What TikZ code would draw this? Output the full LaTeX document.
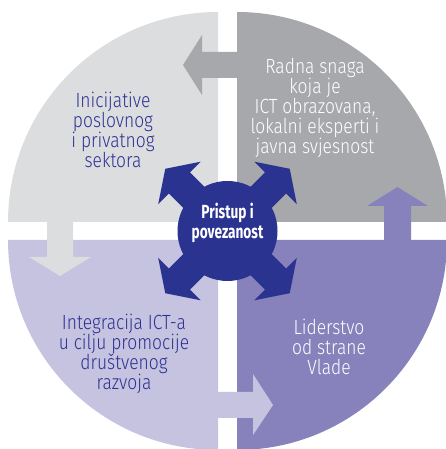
\documentclass[tikz,border=0pt]{standalone}
\usepackage{fontspec}
\setmainfont{Fira Sans}[FakeStretch=0.82]
\newfontfamily\lightfont{Fira Sans Light}[FakeStretch=0.85]
\newfontfamily\hubfont{Fira Sans}[FakeStretch=0.72]
\definecolor{qtl}{HTML}{DCDDDF}
\definecolor{qtr}{HTML}{A7A8AB}
\definecolor{qbl}{HTML}{C5C3E0}
\definecolor{qbr}{HTML}{8782BB}
\definecolor{navy}{HTML}{2B3390}
\definecolor{txtnavy}{HTML}{2E3192}
\begin{document}
\begin{tikzpicture}[x=1pt,y=1pt,
  lbl/.style={align=center,inner sep=0pt,font=\lightfont\fontsize{20.5}{20}\selectfont},
  hub/.style={circle,fill=navy,minimum size=100pt,inner sep=0pt},
  hubtxt/.style={align=center,inner sep=0pt,text=white,font=\hubfont\bfseries\fontsize{19}{20}\selectfont}]
\useasboundingbox (0,0) rectangle (446,449);
\clip (0,0) rectangle (446,449);
% quadrants
\fill[qtl] (218,227) -- (8,227) arc[start angle=180,end angle=90,radius=210] -- cycle;
\fill[qtr] (237,227) -- (237,437) arc[start angle=90,end angle=0,radius=210] -- cycle;
\fill[qbr] (237,209) -- (447,209) arc[start angle=0,end angle=-90,radius=210] -- cycle;
\fill[qbl] (218,209) -- (218,-1) arc[start angle=-90,end angle=-180,radius=210] -- cycle;
% connecting arrows between quadrants
\fill[qtr] (238,397) -- (202,397) -- (202,414) -- (183,384) -- (202,354) -- (202,371) -- (238,371) -- cycle;
\fill[qbr] (384,208) -- (384,243) -- (367,243) -- (397.5,262) -- (428,243) -- (411,243) -- (411,208) -- cycle;
\fill[qtl] (47,228) -- (47,192) -- (29,192) -- (60,173) -- (91,192) -- (73,192) -- (73,228) -- cycle;
\fill[qbl] (217,57) -- (253,57) -- (253,75) -- (273,44) -- (253,14) -- (253,31) -- (217,31) -- cycle;
% central hub with four diagonal arrows
\foreach \a in {45,135,225,315}{
  \fill[navy,shift={(227.5,218)},rotate=\a]
    (0,-15) -- (68,-15) -- (68,-30) -- (88,0) -- (68,30) -- (68,15) -- (0,15) -- cycle;
}
\node[hub] (hub) at (227.5,218) {};
\node[hubtxt] (hubt) at (227.5,226) {Pristup i\\povezanost};
% labels
\node[lbl,text=txtnavy] (tl) at (113,319) {Inicijative\\poslovnog\\i privatnog\\sektora};
\node[lbl,text=white] (tr) at (315,341.5) {Radna snaga\\koja je\\ICT obrazovana,\\lokalni eksperti i\\javna svjesnost};
\node[lbl,text=txtnavy] (bl) at (124,95) {Integracija ICT-a\\u cilju promocije\\društvenog\\razvoja};
\node[lbl,text=white] (br) at (329,102.5) {Liderstvo\\od strane\\Vlade};
\end{tikzpicture}
\end{document}
